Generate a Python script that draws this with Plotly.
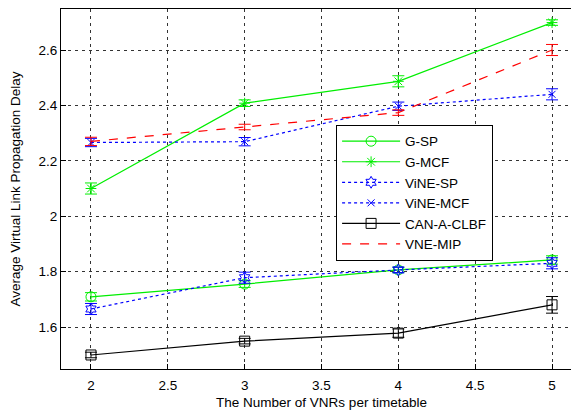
import plotly.graph_objects as go

x_vals = [2, 3, 4, 5]
g_sp = [1.709, 1.755, 1.806, 1.842]
g_sp_err = [0.015, 0.012, 0.010, 0.015]
g_mcf = [2.100, 2.408, 2.487, 2.699]
g_mcf_err = [0.020, 0.012, 0.020, 0.010]
vine_sp = [1.665, 1.778, 1.806, 1.830]
vine_sp_err = [0.020, 0.020, 0.010, 0.020]
vine_mcf = [2.266, 2.269, 2.397, 2.440]
vine_mcf_err = [0.015, 0.015, 0.015, 0.020]
can = [1.499, 1.549, 1.578, 1.680]
can_err = [0.010, 0.010, 0.015, 0.030]
vne_mip = [2.270, 2.322, 2.374, 2.600]
vne_mip_err = [0.015, 0.010, 0.010, 0.020]

x_ticks = [2, 2.5, 3, 3.5, 4, 4.5, 5]
y_ticks = [1.6, 1.8, 2.0, 2.2, 2.4, 2.6]
y_tick_text = ["1.6", "1.8", "2", "2.2", "2.4", "2.6"]

GREEN = "#00ee00"
BLUE = "#0000ff"
BLACK = "#000000"
RED = "#ff0000"

series = [
    ("G-SP", g_sp, g_sp_err, GREEN, "solid", "circle-open", 10),
    ("G-MCF", g_mcf, g_mcf_err, GREEN, "solid", "asterisk-open", 9),
    ("ViNE-SP", vine_sp, vine_sp_err, BLUE, "dot", "hexagram-open", 9),
    ("ViNE-MCF", vine_mcf, vine_mcf_err, BLUE, "dot", "x-thin-open", 7),
    ("CAN-A-CLBF", can, can_err, BLACK, "solid", "square-open", 10),
    ("VNE-MIP", vne_mip, vne_mip_err, RED, "dash", None, 0),
]

fig = go.Figure()
for name, y, err, color, dash, sym, size in series:
    marker = dict(color=color, size=size, line=dict(color=color, width=1))
    if sym:
        marker["symbol"] = sym
    fig.add_trace(go.Scatter(
        x=x_vals, y=y, name=name,
        mode="lines+markers" if sym else "lines",
        line=dict(color=color, width=1.2, dash=dash if dash != "dot" else "3px,3px"),
        marker=marker,
        error_y=dict(type="data", array=err, visible=True, color=color, thickness=1, width=6),
    ))

fig.update_layout(
    width=579, height=411,
    margin=dict(l=53, r=5, t=1, b=50, autoexpand=False),
    paper_bgcolor="white", plot_bgcolor="white",
    font=dict(family="Liberation Sans, Arial", size=13, color="black"),
    showlegend=True,
    legend=dict(x=0.528, y=0.678, xanchor="left", yanchor="top",
                bordercolor="black", borderwidth=1, bgcolor="white",
                font=dict(size=13.5), tracegroupgap=0, itemwidth=58),
)
fig.update_xaxes(
    range=[1.805, 5.195], tickvals=x_ticks, ticktext=[str(t) for t in x_ticks],
    showline=True, linecolor="black", linewidth=1, mirror=True,
    ticks="inside", ticklen=5, tickcolor="black", ticklabelstandoff=4,
    showgrid=True, gridcolor="#333333", griddash="3px,4px", gridwidth=1,
    zeroline=False, automargin=False,
    title=dict(text="The Number of VNRs per timetable", font=dict(size=13.5), standoff=5),
    tickfont=dict(size=13.5),
)
fig.update_yaxes(
    range=[1.4484, 2.748], tickvals=y_ticks, ticktext=y_tick_text,
    showline=True, linecolor="black", linewidth=1, mirror=True,
    ticks="inside", ticklen=5, tickcolor="black",
    showgrid=True, gridcolor="#333333", griddash="3px,4px", gridwidth=1,
    zeroline=False, automargin=False,
    title=dict(text="Average Virtual Link Propagation Delay", font=dict(size=13.5), standoff=22),
    tickfont=dict(size=13.5),
)

fig.write_html("out.html")
